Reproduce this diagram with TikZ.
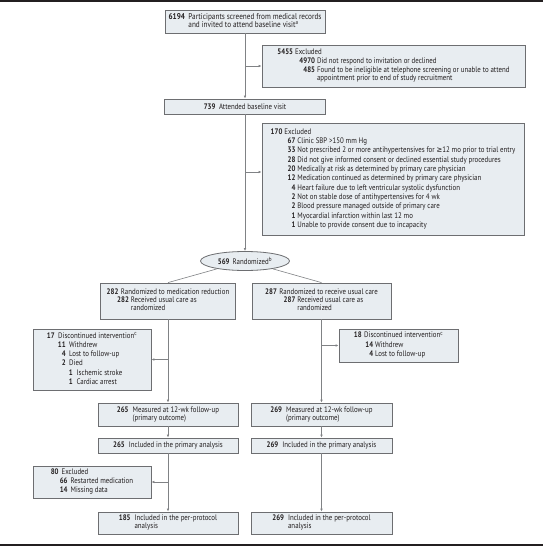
\documentclass[tikz,border=0pt]{standalone}
\usepackage{fontspec}
\setmainfont{PT Sans}[FakeStretch=0.86]
\newfontfamily\symf{DejaVu Sans}[FakeStretch=0.86]
\usepackage{array}
\usetikzlibrary{shapes.geometric,arrows.meta}
\definecolor{boxfill}{HTML}{E8EDF1}
\definecolor{boxdraw}{HTML}{6D6E71}
\definecolor{linecol}{HTML}{808285}
\definecolor{txt}{HTML}{231F20}
\setlength{\tabcolsep}{0pt}
\tikzset{
 flowbox/.style={draw=boxdraw, fill=boxfill, line width=0.8pt, inner sep=0pt, text=txt, font=\fontsize{8}{8.8}\selectfont},
 ovalbox/.style={flowbox, ellipse},
 conn/.style={draw=linecol, line width=0.6pt},
 arr/.style={conn, -{Latex[length=3pt,width=2.6pt]}},
}
\begin{document}
\begin{tikzpicture}[x=1pt,y=-1pt]
\fill[white] (0,0) rectangle (543,546);
\useasboundingbox (0,0) rectangle (543,546);
\fill[txt] (0,0) rectangle (543,2);
\fill[txt] (0,543.5) rectangle (543,546);

\node[flowbox, minimum width=160pt, minimum height=23pt, font=\fontsize{8.4}{8.4}\selectfont] (b1) at (245,21.5)
 {\begin{tabular}{@{}r@{\hspace{3.5pt}}l@{}}\textbf{6194} & Participants screened from medical records\\ & and invited to attend baseline visit\textsuperscript{a}\end{tabular}};

\node[flowbox, minimum width=263pt, minimum height=42pt] (e1) at (393.5,66)
 {\begin{tabular}{@{}r@{\hspace{2pt}}w{r}{20pt}@{\hspace{2pt}}l@{}}
 \textbf{5455} & \multicolumn{2}{l}{Excluded}\\
 & \textbf{4970} & Did not respond to invitation or declined\\
 & \textbf{485} & Found to be ineligible at telephone screening or unable to attend\\
 & & appointment prior to end of study recruitment
 \end{tabular}};

\node[flowbox, minimum width=161pt, minimum height=15pt] (b2) at (245,106.5)
 {\textbf{739}\hspace{3.5pt}Attended baseline visit};

\node[flowbox, minimum width=262pt, minimum height=112pt, font=\fontsize{8}{9.3}\selectfont] (e2) at (393,179)
 {\begin{tabular}{@{}r@{\hspace{2pt}}w{r}{11pt}@{\hspace{2pt}}l@{}}
 \textbf{170} & \multicolumn{2}{l}{Excluded}\\
 & \textbf{67} & Clinic SBP >150 mm Hg\\
 & \textbf{33} & Not prescribed 2 or more antihypertensives for {\symf ≥}12 mo prior to trial entry\\
 & \textbf{28} & Did not give informed consent or declined essential study procedures\\
 & \textbf{20} & Medically at risk as determined by primary care physician\\
 & \textbf{12} & Medication continued as determined by primary care physician\\
 & \textbf{4} & Heart failure due to left ventricular systolic dysfunction\\
 & \textbf{2} & Not on stable dose of antihypertensives for 4 wk\\
 & \textbf{2} & Blood pressure managed outside of primary care\\
 & \textbf{1} & Myocardial infarction within last 12 mo\\
 & \textbf{1} & Unable to provide consent due to incapacity
 \end{tabular}};
\coordinate (e2in) at ([yshift=7pt]e2.west);

\node[ovalbox, minimum width=89pt, minimum height=19pt] (r) at (245,261)
 {\textbf{569}\hspace{3pt}Randomized\textsuperscript{b}};

\node[flowbox, minimum width=135pt, minimum height=36pt, font=\fontsize{8}{8}\selectfont] (L1) at (168,301)
 {\begin{tabular}{@{}r@{\hspace{2.5pt}}w{r}{8pt}@{\hspace{2pt}}l@{}}
 \textbf{282} & \multicolumn{2}{l}{Randomized to medication reduction}\\
 & \textbf{282} & Received usual care as\\
 & & randomized
 \end{tabular}};

\node[flowbox, minimum width=139pt, minimum height=36pt, font=\fontsize{8}{8}\selectfont] (R1) at (321.5,301)
 {\begin{tabular}{@{}r@{\hspace{2.5pt}}w{r}{16pt}@{\hspace{2pt}}l@{}}
 \textbf{287} & \multicolumn{2}{l}{Randomized to receive usual care}\\
 & \textbf{287} & Received usual care as\\
 & & randomized
 \end{tabular}};

\node[flowbox, minimum width=118pt, minimum height=61pt, font=\fontsize{8}{9.2}\selectfont] (dL) at (92,359.5)
 {\begin{tabular}{@{}r@{\hspace{3.5pt}}w{r}{7.5pt}@{\hspace{3.5pt}}w{r}{3.5pt}@{\hspace{4pt}}l@{}}
 \textbf{17} & \multicolumn{3}{l}{Discontinued intervention\textsuperscript{c}}\\
 & \textbf{11} & \multicolumn{2}{l}{Withdrew}\\
 & \textbf{4} & \multicolumn{2}{l}{Lost to follow-up}\\
 & \textbf{2} & \multicolumn{2}{l}{Died}\\
 & & \textbf{1} & Ischemic stroke\\
 & & \textbf{1} & Cardiac arrest
 \end{tabular}};

\node[flowbox, minimum width=119pt, minimum height=33pt, font=\fontsize{8}{9.4}\selectfont] (dR) at (398.5,345.5)
 {\begin{tabular}{@{}r@{\hspace{2.5pt}}w{r}{9pt}@{\hspace{2pt}}l@{}}
 \textbf{18} & \multicolumn{2}{l}{Discontinued intervention\textsuperscript{c}}\\
 & \textbf{14} & Withdrew\\
 & \textbf{4} & Lost to follow-up
 \end{tabular}};

\node[flowbox, minimum width=140pt, minimum height=23pt, font=\fontsize{8}{8.2}\selectfont] (L2) at (168,414.5)
 {\begin{tabular}{@{}r@{\hspace{4pt}}l@{}}\textbf{265} & Measured at 12-wk follow-up\\ & (primary outcome)\end{tabular}};

\node[flowbox, minimum width=141pt, minimum height=23pt, font=\fontsize{8}{8.2}\selectfont] (R2) at (321.5,414.5)
 {\begin{tabular}{@{}r@{\hspace{4pt}}l@{}}\textbf{269} & Measured at 12-wk follow-up\\ & (primary outcome)\end{tabular}};

\node[flowbox, minimum width=140pt, minimum height=15pt] (L3) at (168,445.5)
 {\textbf{265}\hspace{4pt}Included in the primary analysis};

\node[flowbox, minimum width=141pt, minimum height=15pt] (R3) at (321.5,445.5)
 {\textbf{269}\hspace{4pt}Included in the primary analysis};

\node[flowbox, minimum width=118pt, minimum height=32pt, font=\fontsize{8}{9}\selectfont] (xL) at (92,482)
 {\begin{tabular}{@{}r@{\hspace{3pt}}w{r}{6pt}@{\hspace{3pt}}l@{}}
 \textbf{80} & \multicolumn{2}{l}{Excluded}\\
 & \textbf{66} & Restarted medication\\
 & \textbf{14} & Missing data
 \end{tabular}};

\node[flowbox, minimum width=140pt, minimum height=22pt, font=\fontsize{8}{8.3}\selectfont] (L4) at (168,523)
 {\begin{tabular}{@{}r@{\hspace{4pt}}l@{}}\textbf{185} & Included in the per-protocol\\ & analysis\end{tabular}};

\node[flowbox, minimum width=141pt, minimum height=22pt, font=\fontsize{8}{8.3}\selectfont] (R4) at (321.5,523)
 {\begin{tabular}{@{}r@{\hspace{4pt}}l@{}}\textbf{269} & Included in the per-protocol\\ & analysis\end{tabular}};

% connectors
\draw[arr] (b1.south) -- (b2.north);
\draw[arr] (b1.south |- e1.west) -- (e1.west);
\draw[arr] (b2.south) -- (r.north);
\draw[arr] (b2.south |- e2in) -- (e2in);
\draw[conn] (r) -- (L1.north);
\draw[conn] (r) -- (R1.north);
\draw[arr] (L1.south) -- (L2.north);
\draw[arr] (L1.south |- dL.east) -- (dL.east);
\draw[arr] (R1.south) -- (R2.north);
\draw[arr] (R1.south |- dR.west) -- (dR.west);
\draw[arr] (L2.south) -- (L3.north);
\draw[arr] (R2.south) -- (R3.north);
\draw[arr] (L3.south) -- (L4.north);
\draw[arr] (L3.south |- xL.east) -- (xL.east);
\draw[arr] (R3.south) -- (R4.north);
\end{tikzpicture}
\end{document}
